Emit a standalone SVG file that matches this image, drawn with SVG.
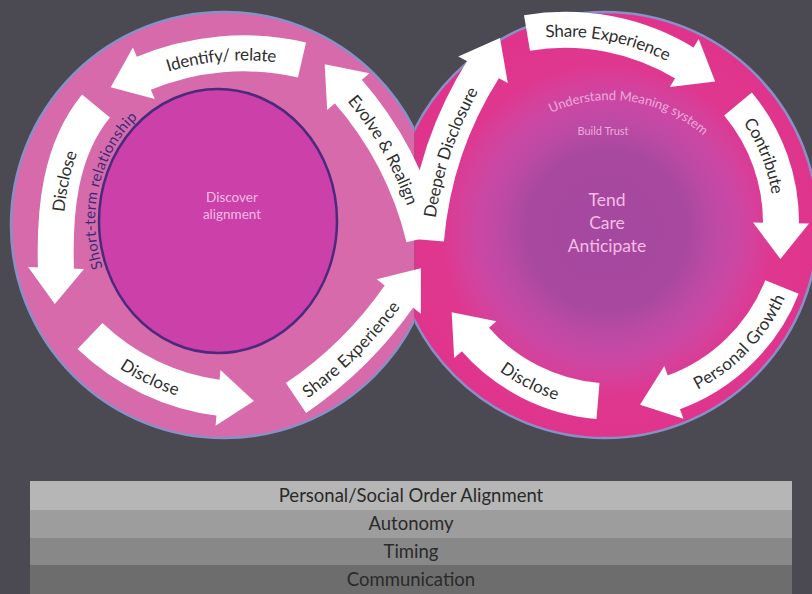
<svg xmlns="http://www.w3.org/2000/svg" width="812" height="594" viewBox="0 0 812 594">
  <style>
    .shaft{fill:none;stroke:#ffffff;stroke-width:36;stroke-linecap:butt}
    .head{fill:#ffffff}
    .lbl{font-family:Lato,"Liberation Sans",sans-serif;font-size:17px;fill:#2f2f2f}
    .soft{font-family:Lato,"Liberation Sans",sans-serif;fill:#f4bde4}
    .bar-text{font-family:Lato,"Liberation Sans",sans-serif;font-size:18.5px;fill:#2a2a2a;text-anchor:middle}
  </style>
  <defs>
    <radialGradient id="core" gradientUnits="userSpaceOnUse" cx="607" cy="230" r="213">
      <stop offset="0" stop-color="#a4489f"/>
      <stop offset="0.38" stop-color="#a9489f"/>
      <stop offset="0.48" stop-color="#ba4aa4"/>
      <stop offset="0.6" stop-color="#c948a4"/>
      <stop offset="0.7" stop-color="#d6409a"/>
      <stop offset="0.78" stop-color="#df378f"/>
      <stop offset="1" stop-color="#e0348c"/>
    </radialGradient>
    <clipPath id="leftHalf"><rect x="0" y="0" width="414.5" height="594"/></clipPath>
    <clipPath id="rightHalf"><rect x="414.5" y="0" width="400" height="594"/></clipPath>
    <polygon id="hd" class="head" points="-2,-28 -2,28 34,0"/>
    <!-- arrow centre lines; labels run along the same curves -->
    <path id="p-ident" d="M142,74 A260,260 0 0,1 302,60"/>
    <path id="p-discL" d="M56,270 C54,210 60,150 96,106"/>
    <path id="p-discB" d="M90,336 A230,230 0 0,0 220,398"/>
    <path id="p-shareL" d="M296,398 A400,400 0 0,0 400,295"/>
    <path id="p-evolve" d="M347,90 A350,350 0 0,1 424,238"/>
    <path id="p-deeper" d="M426,240 A380,380 0 0,1 484,68"/>
    <path id="p-shareR" d="M527,33 A230,230 0 0,1 686,64"/>
    <path id="p-contrib" d="M738,104 A185,185 0 0,1 781,225"/>
    <path id="p-growth" d="M672,393 A185,185 0 0,0 782,287"/>
    <path id="p-discR" d="M474,338 A185,185 0 0,0 598,401"/>
    <path id="p-short" d="M105,274 A123,136 0 0,1 143,113"/>
    <path id="p-meaning" d="M470,240 A140,140 0 0,1 750,240"/>
  </defs>

  <rect width="812" height="594" fill="#4b4a53"/>

  <!-- left cycle: short-term relationship -->
  <g id="left-cycle">
    <circle cx="224" cy="225" r="213" fill="#d66aaa" stroke="#8791c6" stroke-width="2.5" clip-path="url(#leftHalf)"/>
  </g>

  <!-- right cycle: long-term relationship core -->
  <g id="right-cycle">
    <circle cx="605" cy="225" r="213" fill="url(#core)" stroke="#8791c6" stroke-width="2.5" clip-path="url(#rightHalf)"/>
  </g>

  <g id="discover">
    <ellipse cx="218" cy="221" rx="119" ry="132" fill="#cb40a9" stroke="#4b2a7e" stroke-width="2.5"/>
    <text class="soft" font-size="13.5" text-anchor="middle" x="232" y="202">Discover</text>
    <text class="soft" font-size="13.5" text-anchor="middle" x="232" y="219">alignment</text>
  </g>

  <g id="short-term">
    <text font-family="Lato,'Liberation Sans',sans-serif" font-size="15" letter-spacing="0.4" fill="#3b2a7a">
      <textPath href="#p-short" startOffset="50%" text-anchor="middle">Short-term relationship</textPath>
    </text>
  </g>

  <g id="core-labels">
    <text class="soft" font-size="13" opacity="0.85">
      <textPath href="#p-meaning" startOffset="54.7%" text-anchor="middle">Understand Meaning system</textPath>
    </text>
    <text class="soft" font-size="11" opacity="0.85" text-anchor="middle" x="603" y="135">Build Trust</text>
    <text class="soft" font-size="17.5" text-anchor="middle" x="607" y="206">Tend</text>
    <text class="soft" font-size="17.5" text-anchor="middle" x="607" y="229">Care</text>
    <text class="soft" font-size="17.5" text-anchor="middle" x="607" y="252">Anticipate</text>
  </g>

  <!-- cycle arrows -->
  <g id="connectors">
    <use href="#p-ident" class="shaft"/>
    <use href="#hd" transform="translate(142,74) rotate(157)"/>
    <use href="#p-discL" class="shaft"/>
    <use href="#hd" transform="translate(56,270) rotate(92)"/>
    <use href="#p-discB" class="shaft"/>
    <use href="#hd" transform="translate(220,398) rotate(5)"/>
    <use href="#p-shareL" class="shaft"/>
    <use href="#hd" transform="translate(400,295) rotate(-52)"/>
    <use href="#p-evolve" class="shaft"/>
    <use href="#hd" transform="translate(347,90) rotate(-131)"/>
    <use href="#p-deeper" class="shaft"/>
    <use href="#hd" transform="translate(484,68) rotate(-62)"/>
    <use href="#p-shareR" class="shaft"/>
    <use href="#hd" transform="translate(686,64) rotate(31)"/>
    <use href="#p-contrib" class="shaft"/>
    <use href="#hd" transform="translate(781,225) rotate(91)"/>
    <use href="#p-growth" class="shaft"/>
    <use href="#hd" transform="translate(672,393) rotate(160)"/>
    <use href="#p-discR" class="shaft"/>
    <use href="#hd" transform="translate(474,338) rotate(-131)"/>
  </g>

  <g id="arrow-labels">
    <text class="lbl" dominant-baseline="central"><textPath href="#p-ident" startOffset="50%" text-anchor="middle">Identify/ relate</textPath></text>
    <text class="lbl" dominant-baseline="central"><textPath href="#p-discL" startOffset="52%" text-anchor="middle">Disclose</textPath></text>
    <text class="lbl" dominant-baseline="central"><textPath href="#p-discB" startOffset="50%" text-anchor="middle">Disclose</textPath></text>
    <text class="lbl" dominant-baseline="central"><textPath href="#p-shareL" startOffset="50%" text-anchor="middle">Share Experience</textPath></text>
    <text class="lbl" dominant-baseline="central"><textPath href="#p-evolve" startOffset="42%" text-anchor="middle">Evolve &amp; Realign</textPath></text>
    <text class="lbl" dominant-baseline="central"><textPath href="#p-deeper" startOffset="50%" text-anchor="middle">Deeper Disclosure</textPath></text>
    <text class="lbl" dominant-baseline="central"><textPath href="#p-shareR" startOffset="50%" text-anchor="middle">Share Experience</textPath></text>
    <text class="lbl" dominant-baseline="central"><textPath href="#p-contrib" startOffset="45%" text-anchor="middle">Contribute</textPath></text>
    <text class="lbl" dominant-baseline="central"><textPath href="#p-growth" startOffset="55%" text-anchor="middle">Personal Growth</textPath></text>
    <text class="lbl" dominant-baseline="central"><textPath href="#p-discR" startOffset="50%" text-anchor="middle">Disclose</textPath></text>
  </g>

  <!-- foundation layers -->
  <g id="layers">
    <g id="layer-alignment">
      <rect x="30" y="481" width="762" height="29" fill="#b6b6b6"/>
      <text class="bar-text" x="411" y="502">Personal/Social Order Alignment</text>
    </g>
    <g id="layer-autonomy">
      <rect x="30" y="510" width="762" height="28" fill="#9d9d9d"/>
      <text class="bar-text" x="411" y="530">Autonomy</text>
    </g>
    <g id="layer-timing">
      <rect x="30" y="538" width="762" height="27" fill="#888888"/>
      <text class="bar-text" x="411" y="558">Timing</text>
    </g>
    <g id="layer-communication">
      <rect x="30" y="565" width="762" height="29" fill="#6d6d6d"/>
      <text class="bar-text" x="411" y="586">Communication</text>
    </g>
  </g>
</svg>
